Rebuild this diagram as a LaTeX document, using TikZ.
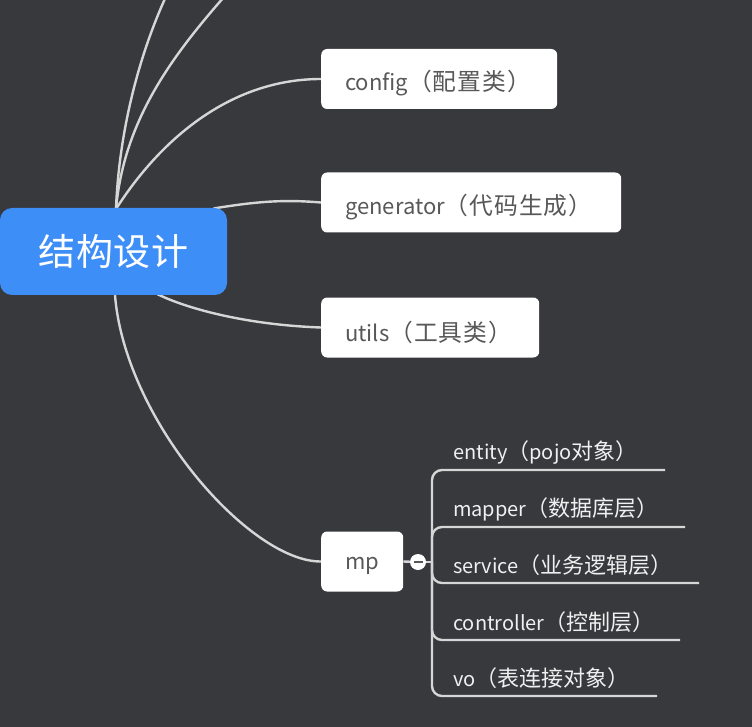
\documentclass[tikz,border=0pt]{standalone}
\usepackage{fontspec}
\setmainfont{Noto Sans CJK SC}
\newfontfamily\cjkA[Scale=1.08,LetterSpace=4]{Noto Sans CJK SC}
\newfontfamily\cjkB[Scale=1.1]{Noto Sans CJK SC}
\newfontfamily\cjkR[LetterSpace=2]{Noto Sans CJK SC}
\pgfdeclarelayer{back}
\pgfdeclarelayer{links}
\pgfsetlayers{back,links,main}
\definecolor{bgc}{RGB}{55,57,61}
\definecolor{rootblue}{RGB}{62,142,247}
\definecolor{linkc}{RGB}{214,214,214}
\definecolor{boxtext}{RGB}{88,88,88}
\definecolor{itemtext}{RGB}{240,240,240}
\tikzset{
  rootbox/.style={fill=rootblue, rounded corners=12pt, minimum width=227pt, minimum height=87pt, inner sep=0pt, text=white, font=\fontsize{37}{40}\selectfont\cjkR},
  leafbox/.style={fill=white, rounded corners=6pt, minimum height=60pt, inner xsep=24pt, inner ysep=0pt, text=boxtext, align=left, anchor=west, font=\fontsize{22}{24}\selectfont},
  item/.style={text=itemtext, anchor=west, inner sep=0pt, font=\fontsize{20}{22}\selectfont},
  link/.style={draw=linkc, line width=2.4pt},
  foldc/.style={circle, fill=white, minimum size=16pt, inner sep=0pt}
}
\newcommand{\dn}[2]{\raisebox{-#1}[\height][\depth]{#2}}
\newcommand{\bx}[2]{\dn{4.5pt}{#1{\cjkA #2}}}
\newcommand{\itm}[1]{\dn{3.5pt}{#1}}
\begin{document}
\begin{tikzpicture}[x=1pt,y=-1pt]
\begin{pgfonlayer}{back}
\fill[bgc] (0,0) rectangle (752,727);
\end{pgfonlayer}
\useasboundingbox (0,0) rectangle (752,727);
\clip (0,0) rectangle (752,727);
% nodes
\node[rootbox] (root) at (113.5,251.5) {结构设计};
\node[leafbox, text width=188pt] (config) at (321,79) {\bx{config}{（配置类）}};
\node[leafbox, text width=252pt] (gen) at (321,202.5) {\bx{generator}{（代码生成）}};
\node[leafbox, text width=170pt] (utils) at (321,327.5) {\bx{utils}{（工具类）}};
\node[leafbox, text width=34pt, align=center] (mp) at (321,561.5) {\dn{4pt}{mp}};
\node[foldc] (fold) at (418,562) {};
\draw[boxtext, line width=2.6pt] (fold.center) +(-4.5,0) -- +(4.5,0);
\coordinate (hub) at (432,562);
\node[item] (entity) at (453,449) {\itm{entity{\cjkB （}pojo{\cjkB 对象）}}};
\node[item] (mapper) at (453,506) {\itm{mapper{\cjkB （数据库层）}}};
\node[item] (service) at (453,562) {\itm{service{\cjkB （业务逻辑层）}}};
\node[item] (ctrl) at (453,619) {\itm{controller{\cjkB （控制层）}}};
\node[item] (vo) at (453,675) {\itm{vo{\cjkB （表连接对象）}}};
\coordinate (eEnd) at (665,470);
\coordinate (mEnd) at (685,527);
\coordinate (sEnd) at (699,583);
\coordinate (cEnd) at (680,640);
\coordinate (vEnd) at (657,696);
\coordinate (top1) at (170,-12);
\coordinate (top2) at (232,-12);
\coordinate (rtop) at (116,209);
\begin{pgfonlayer}{links}
\draw[link] (rtop) .. controls (119,130) and (140,50) .. (top1);
\draw[link] (rtop) .. controls (124,120) and (172,55) .. (top2);
\draw[link] (rtop) .. controls (160,140) and (230,79) .. (config.west);
\draw[link] (root.center) ++(100,-43) .. controls (265,200) and (290,200) .. (gen.west);
\draw[link] (root.south) ++(44,-1) .. controls (190,310) and (250,325) .. (utils.west);
\draw[link] (root.south) ++(1.5,0) .. controls (125,420) and (250,562) .. (mp.west);
\draw[link] (mp.east) -- (fold);
\draw[link] (fold) -- (hub);
\draw[link, rounded corners=10pt] (hub) |- (eEnd);
\draw[link, rounded corners=10pt] (hub) |- (mEnd);
\draw[link, rounded corners=10pt] (hub) |- (sEnd);
\draw[link, rounded corners=10pt] (hub) |- (cEnd);
\draw[link, rounded corners=10pt] (hub) |- (vEnd);
\end{pgfonlayer}
\end{tikzpicture}
\end{document}
